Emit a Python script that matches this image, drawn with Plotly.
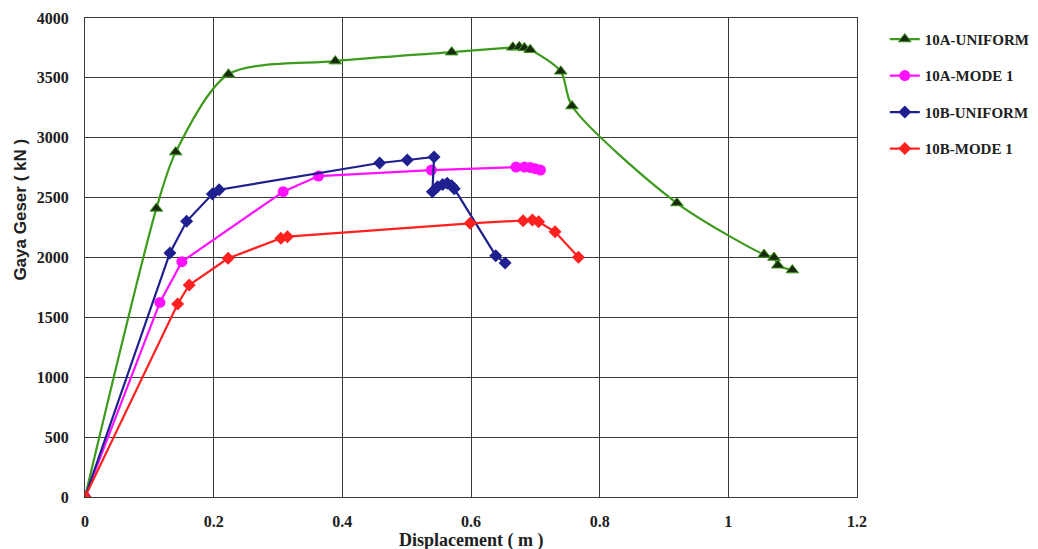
import plotly.graph_objects as go

# 10A-UNIFORM
a_uni_x = [0, 0.111, 0.141, 0.223, 0.389, 0.570, 0.665, 0.675, 0.683, 0.692, 0.7395, 0.757, 0.920, 1.0555, 1.071, 1.077, 1.0995]
a_uni_y = [0, 2410, 2880, 3530, 3640, 3715, 3755, 3760, 3750, 3735, 3555, 3265, 2455, 2025, 2000, 1935, 1895]

# 10A-MODE 1
a_m1_x = [0, 0.1164, 0.1506, 0.308, 0.363, 0.5385, 0.670, 0.683, 0.692, 0.700, 0.708]
a_m1_y = [0, 1625, 1965, 2550, 2680, 2730, 2755, 2755, 2752, 2742, 2730]

# 10B-UNIFORM
b_uni_x = [0, 0.132, 0.158, 0.198, 0.2085, 0.458, 0.501, 0.5426, 0.540, 0.548, 0.556, 0.563, 0.570, 0.574, 0.6385, 0.653]
b_uni_y = [0, 2038, 2302, 2530, 2566, 2789, 2814, 2840, 2550, 2590, 2610, 2620, 2600, 2575, 2015, 1955]

# 10B-MODE 1
b_m1_x = [0, 0.144, 0.162, 0.2225, 0.3045, 0.3147, 0.5986, 0.681, 0.6954, 0.705, 0.7307, 0.767]
b_m1_y = [0, 1612, 1770, 1993, 2160, 2174, 2285, 2307, 2313, 2299, 2215, 2002]

x_ticks = [0, 0.2, 0.4, 0.6, 0.8, 1.0, 1.2]
x_tick_labels = ["0", "0.2", "0.4", "0.6", "0.8", "1", "1.2"]
y_ticks = [0, 500, 1000, 1500, 2000, 2500, 3000, 3500, 4000]

fig = go.Figure()
fig.add_trace(go.Scatter(x=a_uni_x, y=a_uni_y, name="10A-UNIFORM", mode="lines+markers",
                         line=dict(color="#3c9a1c", width=2.2, shape="spline", smoothing=0.8),
                         marker=dict(symbol="triangle-up", size=11, color="#1a2a10",
                                     line=dict(color="#3c9a1c", width=1)),
                         legendgroup="a"))
fig.add_trace(go.Scatter(x=a_m1_x, y=a_m1_y, name="10A-MODE 1", mode="lines+markers",
                         line=dict(color="#ff10ff", width=2.2),
                         marker=dict(symbol="circle", size=11, color="#ff10ff"),
                         legendgroup="b"))
fig.add_trace(go.Scatter(x=b_uni_x, y=b_uni_y, name="10B-UNIFORM", mode="lines+markers",
                         line=dict(color="#1f2090", width=2.2),
                         marker=dict(symbol="diamond", size=10, color="#1f2090"),
                         legendgroup="c"))
fig.add_trace(go.Scatter(x=b_m1_x, y=b_m1_y, name="10B-MODE 1", mode="lines+markers",
                         line=dict(color="#ff2020", width=2.2),
                         marker=dict(symbol="diamond", size=10, color="#ff2020"),
                         legendgroup="d"))

grid = "#3a3a3a"
tick_font = dict(family="Liberation Serif", size=16, color="#202020", weight="bold")
fig.update_layout(
    width=1038, height=549,
    margin=dict(l=85, r=181, t=18, b=52, autoexpand=False),
    plot_bgcolor="white", paper_bgcolor="white",
    showlegend=True,
    legend=dict(x=1.036, y=0.99, xanchor="left", yanchor="top",
                font=dict(family="Liberation Serif", size=15, color="#202020", weight="bold"),
                tracegroupgap=14, itemwidth=30, bgcolor="rgba(0,0,0,0)"),
    xaxis=dict(range=[0, 1.2], tickvals=x_ticks, ticktext=x_tick_labels,
               showgrid=True, gridcolor=grid, gridwidth=1.3,
               showline=True, linecolor=grid, linewidth=1.3, mirror=True,
               zeroline=False, ticks="", ticklabelstandoff=10,
               tickfont=tick_font),
    yaxis=dict(range=[0, 4000], tickvals=y_ticks,
               showgrid=True, gridcolor=grid, gridwidth=1.3,
               showline=True, linecolor=grid, linewidth=1.3, mirror=True,
               zeroline=False, ticks="", ticklabelstandoff=12,
               tickfont=tick_font),
    annotations=[
        dict(text="Displacement ( m )", x=0.5, y=0, xref="paper", yref="paper",
             xanchor="center", yanchor="top", yshift=-31, showarrow=False,
             font=dict(family="Liberation Serif", size=18, color="#202020", weight="bold")),
        dict(text="Gaya Geser ( kN )", x=0, y=2400, xref="paper", yref="y",
             xanchor="center", yanchor="middle", xshift=-64, textangle=-90, showarrow=False,
             font=dict(family="Liberation Sans", size=17, color="#202020", weight="bold")),
    ],
)

fig.write_html("out.html")
